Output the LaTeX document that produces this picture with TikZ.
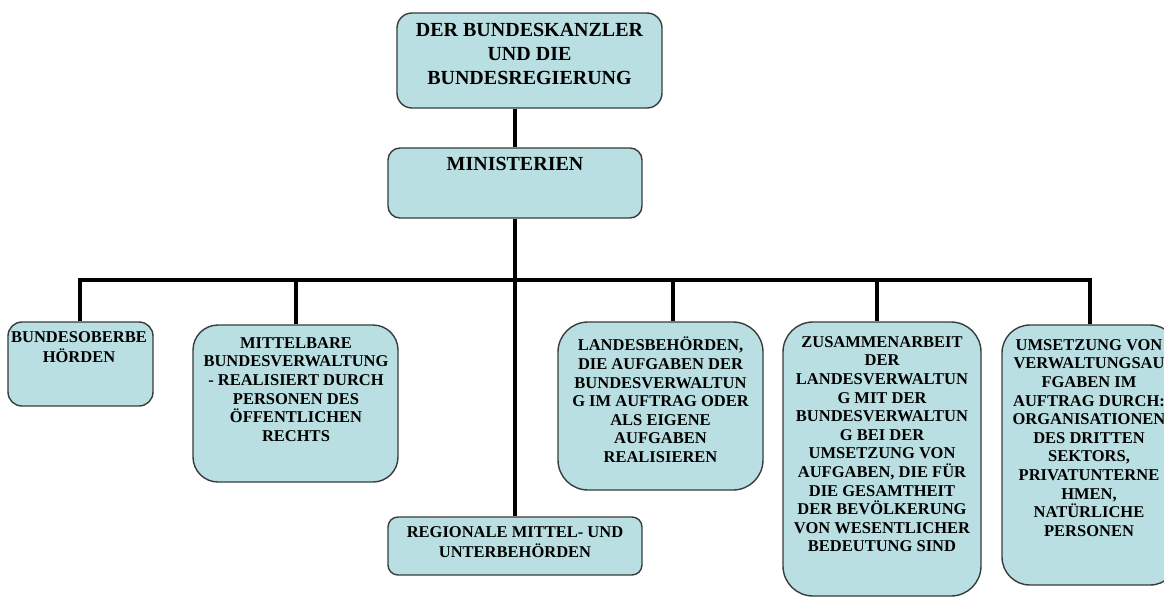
\documentclass[tikz,border=0pt]{standalone}
\usepackage{fontspec}
\setmainfont{Liberation Serif}
\begin{document}
\definecolor{boxfill}{RGB}{185,223,226}
\definecolor{boxline}{RGB}{55,60,60}
\begin{tikzpicture}[x=1pt,y=-1pt,
  box/.style={draw=boxline, fill=boxfill, line width=1.4pt, rounded corners=#1, inner sep=0pt},
  txt/.style={anchor=north, align=center, inner sep=0pt, font=\bfseries\fontsize{16.5}{18.6}\selectfont},
  bigtxt/.style={anchor=north, align=center, inner sep=0pt, font=\bfseries\fontsize{20}{24}\selectfont},
  wire/.style={line width=4pt, black, line join=miter}]
\useasboundingbox (0,0) rectangle (1164,598);
\clip (0,0) rectangle (1164,598);

% boxes
\node[box=15pt, minimum width=265pt, minimum height=95pt] (kanz) at (529.5,60.5) {};
\node[box=12pt, minimum width=254pt, minimum height=70pt] (mini) at (515,183) {};
\node[box=14pt, minimum width=145pt, minimum height=84pt] (b1) at (80.5,364) {};
\node[box=25pt, minimum width=205pt, minimum height=157pt] (b2) at (295.5,403.5) {};
\node[box=30pt, minimum width=205pt, minimum height=168pt] (b4) at (660.5,406) {};
\node[box=30pt, minimum width=198pt, minimum height=274pt] (b5) at (882,459) {};
\node[box=28pt, minimum width=176pt, minimum height=260pt] (b6) at (1090,455) {};
\node[box=10pt, minimum width=254pt, minimum height=58pt] (regio) at (515,546) {};

% texts
\node[bigtxt] (tkanz) at (529.5,19) {\strut DER BUNDESKANZLER\\UND DIE\\BUNDESREGIERUNG};
\node[bigtxt] (tmini) at (515,153) {\strut MINISTERIEN};
\node[txt] (tb1) at (79,329) {\strut BUNDESOBERBE\\HÖRDEN};
\node[txt] (tb2) at (296,335) {\strut MITTELBARE\\BUNDESVERWALTUNG\\- REALISIERT DURCH\\PERSONEN DES\\ÖFFENTLICHEN\\RECHTS};
\node[txt] (tb4) at (660.5,337) {\strut LANDESBEHÖRDEN,\\DIE AUFGABEN DER\\BUNDESVERWALTUN\\G IM AUFTRAG ODER\\ALS EIGENE\\AUFGABEN\\REALISIEREN};
\node[txt] (tb5) at (882,334) {\strut ZUSAMMENARBEIT\\DER\\LANDESVERWALTUN\\G MIT DER\\BUNDESVERWALTUN\\G BEI DER\\UMSETZUNG VON\\AUFGABEN, DIE FÜR\\DIE GESAMTHEIT\\DER BEVÖLKERUNG\\VON WESENTLICHER\\BEDEUTUNG SIND};
\node[txt] (tb6) at (1089,337) {\strut UMSETZUNG VON\\VERWALTUNGSAU\\FGABEN IM\\AUFTRAG DURCH:\\ORGANISATIONEN\\DES DRITTEN\\SEKTORS,\\PRIVATUNTERNE\\HMEN,\\NATÜRLICHE\\PERSONEN};
\node[txt] (tregio) at (515,524) {\strut REGIONALE MITTEL- UND\\UNTERBEHÖRDEN};

% connectors
\coordinate (bus) at (0,280);
\draw[wire] (mini.north |- kanz.south) -- (mini.north);
\draw[wire] (mini.south) -- (regio.north);
\draw[wire] ([xshift=-0.5pt]b1.north) -- ([xshift=-0.5pt]b1.north |- bus) -- (b6.north |- bus) -- (b6.north);
\draw[wire] (b2.north |- bus) -- (b2.north);
\draw[wire] ([xshift=12.5pt]b4.north |- bus) -- ([xshift=12.5pt]b4.north);
\draw[wire] ([xshift=-5pt]b5.north |- bus) -- ([xshift=-5pt]b5.north);
\end{tikzpicture}
\end{document}
